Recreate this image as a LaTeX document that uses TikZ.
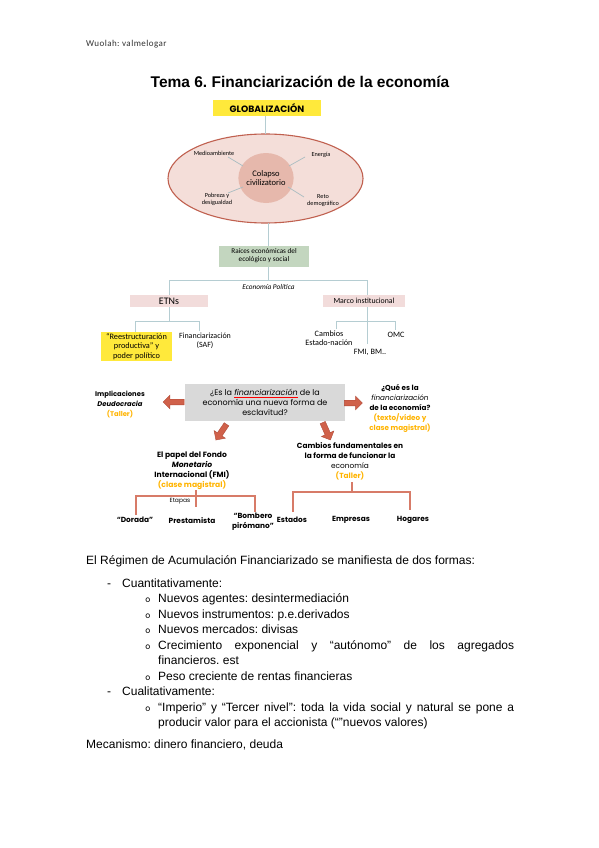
\documentclass[tikz,border=0pt]{standalone}
\usepackage{fontspec}
\setmainfont{Liberation Sans}
\newfontfamily\comic{Poppins}
\newfontfamily\calib{Carlito}
\newfontfamily\wuo{Carlito}[LetterSpace=5]
\usetikzlibrary{shapes.geometric,shapes.arrows}
\frenchspacing
\definecolor{ellfill}{HTML}{F4DED9}
\definecolor{elldraw}{HTML}{C0604F}
\definecolor{innerfill}{HTML}{E6B8AC}
\definecolor{spoke}{HTML}{A9BCC1}
\definecolor{lineblue}{HTML}{B5CDD2}
\definecolor{greenbox}{HTML}{C3D6BF}
\definecolor{pinkbox}{HTML}{F2DCDB}
\definecolor{yellowbox}{HTML}{FFE93B}
\definecolor{graybox}{HTML}{D9D9D9}
\definecolor{arrowred}{HTML}{D0614A}
\definecolor{arrowdark}{HTML}{B04A38}
\definecolor{treered}{HTML}{D77B68}
\definecolor{orangetxt}{HTML}{FFB400}
\tikzset{
  tiny/.style={font=\calib\fontsize{6.2}{7}\selectfont, align=center, inner sep=0},
  comicb/.style={font=\comic\bfseries\fontsize{7.4}{9.8}\selectfont, align=center, inner sep=0},
  comicr/.style={font=\comic\fontsize{8}{10}\selectfont, align=center, inner sep=0},
  tline/.style={draw=lineblue, line width=0.8},
  sline/.style={draw=spoke, line width=0.7},
  rline/.style={draw=treered, line width=1.5},
  barrow/.style={single arrow, fill=arrowred, draw=arrowdark, line width=0.4, inner sep=2.6pt,
     single arrow head extend=4pt, minimum height=20pt, single arrow tip angle=90},
  body/.style={font=\fontsize{12}{14}\selectfont, anchor=base west, inner sep=0},
  bul/.style={font=\ttfamily\fontsize{10.5}{13}\selectfont, anchor=base west, inner sep=0},
}
\begin{document}
\begin{tikzpicture}[x=1pt,y=-1pt]
\useasboundingbox[fill=white] (0,0) rectangle (599,848);

% header and title
\node[font=\wuo\fontsize{9}{10}\selectfont, anchor=base west, inner sep=0, text=black!80] (wuolah) at (86,46.5) {Wuolah: valmelogar};
\node[font=\bfseries\fontsize{15.5}{17}\selectfont, anchor=base, inner sep=0] (title) at (300,87.5) {Tema 6. Financiarización de la economía};

% globalizacion
\node[fill=yellowbox, minimum width=108, minimum height=16, inner sep=0, font=\comic\bfseries\fontsize{9.2}{10}\selectfont] (glob) at (267,108) {GLOBALIZACIÓN};

% ellipse
\node[ellipse, draw=elldraw, fill=ellfill, line width=1.1, minimum width=195, minimum height=89, inner sep=0] (ell) at (265.5,178.5) {};
\node[ellipse, fill=innerfill, minimum width=54, minimum height=50, inner sep=0, font=\calib\fontsize{8.5}{9.5}\selectfont, align=center] (colapso) at (266,178) {Colapso\\civilizatorio};
\node[tiny] (medio) at (214,153) {Medioambiente};
\node[tiny] (energia) at (321,155) {Energía};
\node[tiny] (pobreza) at (217,199) {Pobreza y\\desigualdad};
\node[tiny] (reto) at (323,201) {Reto\\demográfico};
\coordinate (s1a) at (228,157); \coordinate (s1b) at (243,166);
\coordinate (s2a) at (305,157); \coordinate (s2b) at (289,166);
\coordinate (s3a) at (228,193); \coordinate (s3b) at (243,187);
\coordinate (s4a) at (304,197); \coordinate (s4b) at (288,187);
\draw[sline] (s1a) -- (s1b);
\draw[sline] (s2a) -- (s2b);
\draw[sline] (s3a) -- (s3b);
\draw[sline] (s4a) -- (s4b);
\draw[tline] (glob.south) ++(-2,0) -- (265,134);

% raices
\node[fill=greenbox, minimum width=90, minimum height=21, inner sep=0, font=\calib\fontsize{7.2}{8.2}\selectfont, align=center] (raices) at (264,256) {Raíces económicas del\\ecológico y social};
\draw[tline] (268,223) -- (268,245.5);

\node[fill=pinkbox, minimum width=78, minimum height=12, inner sep=0, font=\calib\fontsize{10}{10}\selectfont] (etns) at (169,301) {ETNs};
\node[fill=pinkbox, minimum width=82, minimum height=12, inner sep=0, font=\calib\fontsize{7.8}{8}\selectfont] (marco) at (364,301) {Marco institucional};
\coordinate (hl) at (169,280);
\coordinate (hr) at (367,280);
\draw[tline] (268,266.5) -- (268,280);
\draw[tline] (etns.north) -- (hl) -- (hr) -- (367,295);
\node[tiny, font=\calib\itshape\fontsize{7.3}{8}\selectfont] (ecpol) at (268.5,287) {Economía Política};

% ETNs subtree
\node[fill=yellowbox, minimum width=71, minimum height=29, inner sep=0, font=\calib\fontsize{8.3}{9.5}\selectfont, align=center] (reest) at (136.5,346.5) {“Reestructuración\\productiva” y\\poder político};
\node[tiny, font=\calib\fontsize{8}{9}\selectfont] (saf) at (205,341) {Financiarización\\(SAF)};
\draw[tline] (etns.south) -- (169,321);
\draw[tline] (135,332) -- (135,321) -- (199,321) -- (199,331);

% Marco subtree
\node[tiny, font=\calib\fontsize{8.2}{9}\selectfont] (cambiosE) at (329,338.5) {Cambios\\Estado-nación};
\node[tiny, font=\calib\fontsize{8.2}{9}\selectfont] (fmibm) at (370,352) {FMI, BM..};
\node[tiny, font=\calib\fontsize{8.2}{9}\selectfont] (omc) at (396,335) {OMC};
\draw[tline] (367,307) -- (367,344);
\draw[tline] (336,329) -- (336,321) -- (395,321) -- (395,330);

% central question
\node[fill=graybox, minimum width=160, minimum height=37, inner sep=0, comicr] (pregunta) at (265,402.5)
  {¿Es la {\color{red}\underline{\color{black}\textit{financiarización}}} de la\\economía una nueva forma de\\esclavitud?};
\node[barrow, shape border rotate=180, minimum height=21pt] (arrL) at (175,402) {};
\node[barrow, minimum height=18pt] (arrR) at (352,403) {};
\node[barrow, rotate=-124, minimum height=19pt] (arrDL) at (222,431) {};
\node[barrow, rotate=-66, minimum height=19pt] (arrDR) at (326,430) {};

\node[comicb, font=\comic\bfseries\fontsize{6.8}{10}\selectfont] (impl) at (120,404) {Implicaciones\\\textit{Deudocracia}\\{\color{orangetxt}(Taller)}};
\node[comicb, font=\comic\bfseries\fontsize{7.2}{9.8}\selectfont] (que) at (400,408.5) {¿Qué es la\\{\mdseries\itshape financiarización}\\de la economía?\\{\color{orangetxt}(texto/vídeo y}\\{\color{orangetxt}clase magistral)}};

% FMI subtree
\node[comicb, font=\comic\bfseries\fontsize{7.6}{10}\selectfont] (papel) at (192,471) {El papel del Fondo\\\textit{Monetario}\\Internacional (FMI)\\{\color{orangetxt}(clase magistral)}};
\node[tiny, font=\comic\fontsize{6}{7}\selectfont] (etapas) at (180,501) {Etapas};
\node[comicb] (dorada) at (135,520) {“Dorada”};
\node[comicb] (prest) at (192,521) {Prestamista};
\node[comicb] (bombero) at (253,521.5) {“Bombero\\pirómano”};
\draw[rline] (196,490) -- (196,507);
\draw[rline] (136,515) -- (136,496) -- (255,496) -- (255,512);

% Cambios subtree
\node[comicb] (cambiosF) at (350,461.5) {Cambios fundamentales en\\la forma de funcionar la\\\mdseries economía\\{\color{orangetxt}\bfseries(Taller)}};
\node[comicb] (estados) at (292,520) {Estados};
\node[comicb] (empresas) at (351,520) {Empresas};
\node[comicb] (hogares) at (413,520) {Hogares};
\draw[rline] (352,482) -- (352,492);
\draw[rline] (293,512) -- (293,492) -- (410,492) -- (410,510);

% body text
\node[body] (t1) at (86,564.5) {El Régimen de Acumulación Financiarizado se manifiesta de dos formas:};
\node[body] (d1) at (107,587) {-};
\node[body] (t2) at (122,587) {Cuantitativamente:};
\node[bul] (b1) at (145,602.5) {o};
\node[body] (t3) at (158,602.5) {Nuevos agentes: desintermediación};
\node[bul] (b2) at (145,618) {o};
\node[body] (t4) at (158,618) {Nuevos instrumentos: p.e.derivados};
\node[bul] (b3) at (145,633.5) {o};
\node[body] (t5) at (158,633.5) {Nuevos mercados: divisas};
\node[bul] (b4) at (145,649) {o};
\node[body] (t6) at (158,649) {\makebox[356pt][s]{Crecimiento exponencial y “autónomo” de los agregados}};
\node[body] (t7) at (158,664.5) {financieros. est};
\node[bul] (b5) at (145,680) {o};
\node[body] (t8) at (158,680) {Peso creciente de rentas financieras};
\node[body] (d2) at (107,695.5) {-};
\node[body] (t9) at (122,695.5) {Cualitativamente:};
\node[bul] (b6) at (145,711) {o};
\node[body] (t10) at (158,711) {\makebox[356pt][s]{“Imperio” y “Tercer nivel”: toda la vida social y natural se pone a}};
\node[body] (t11) at (158,726.5) {producir valor para el accionista (“”nuevos valores)};
\node[body] (t12) at (86,748) {Mecanismo: dinero financiero, deuda};
\end{tikzpicture}
\end{document}
